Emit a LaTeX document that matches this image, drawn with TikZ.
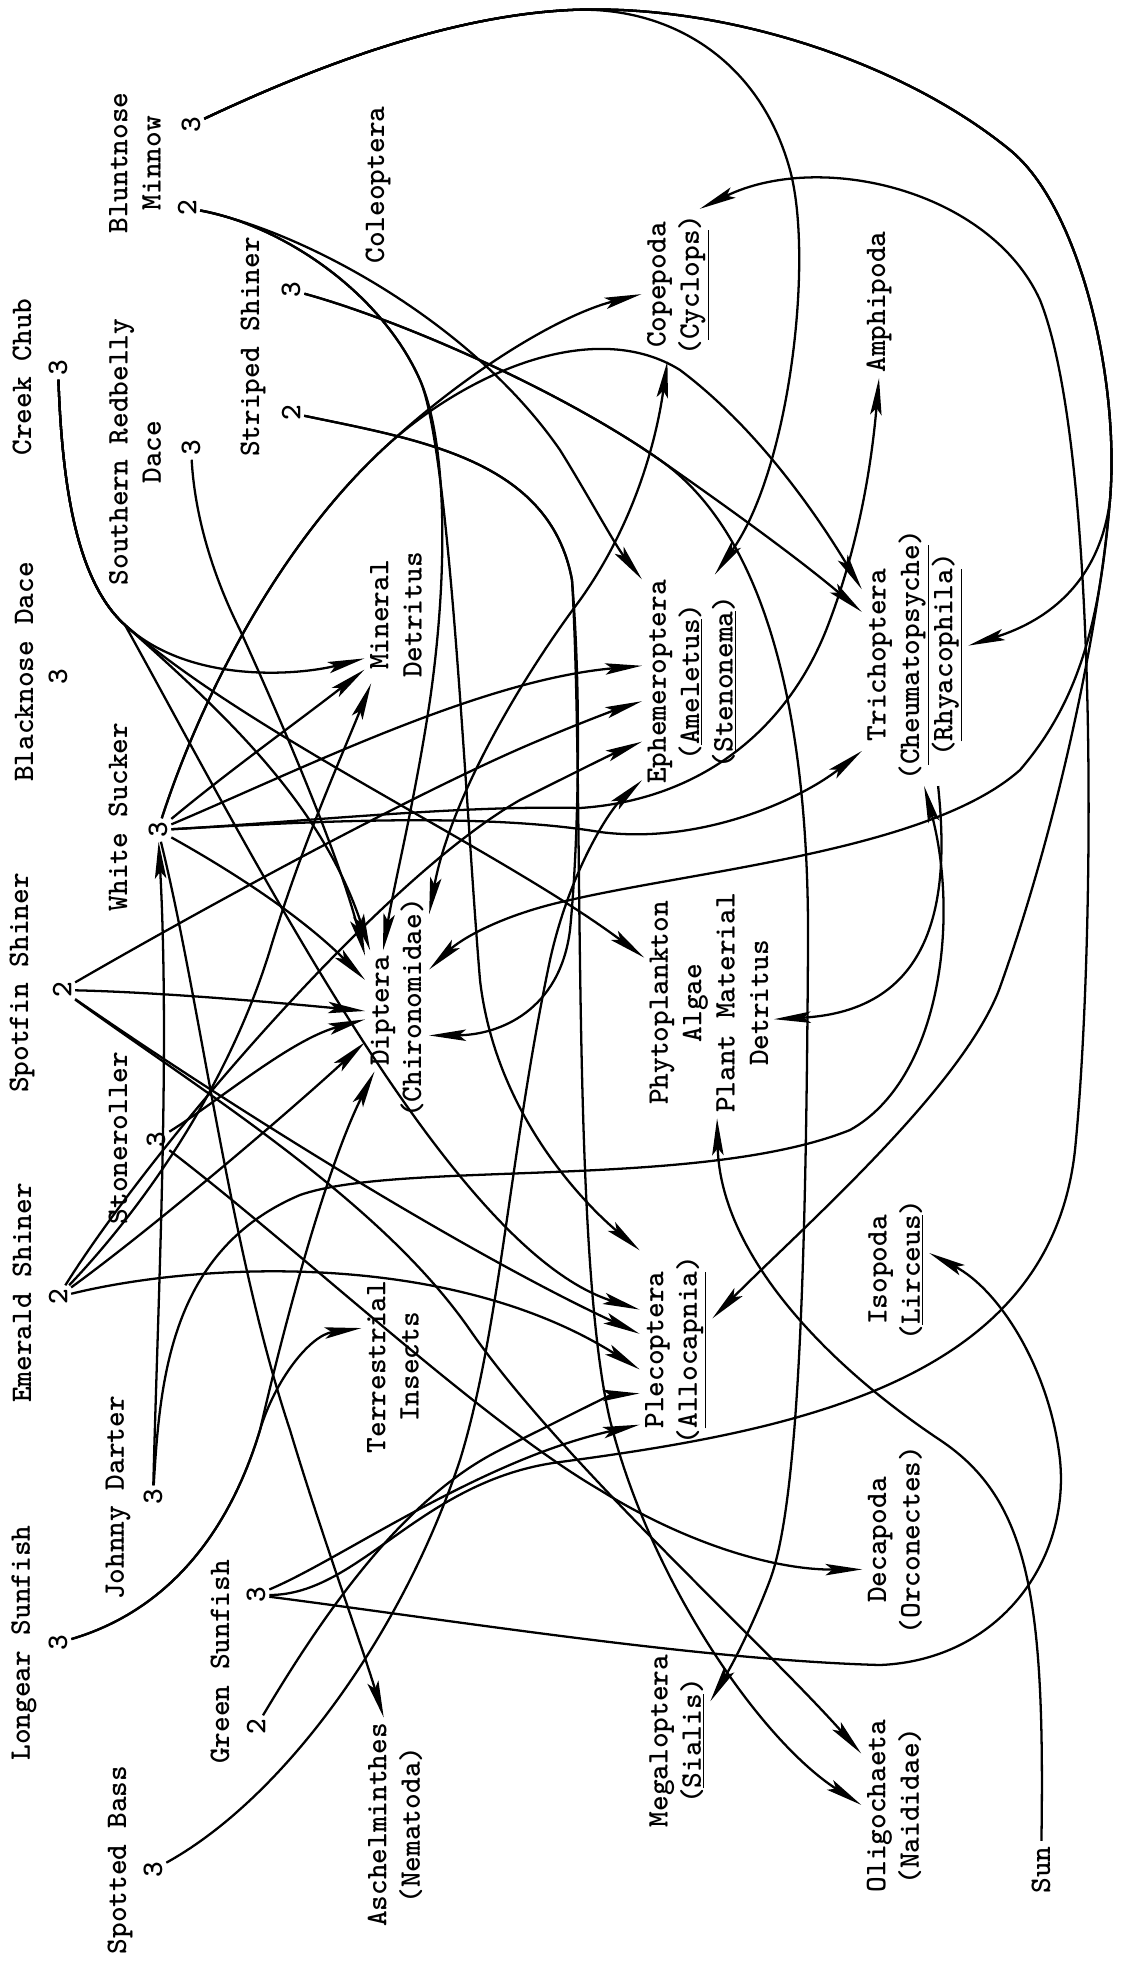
\documentclass[tikz,border=0pt]{standalone}
\usetikzlibrary{arrows.meta}
\newcommand{\lbl}{\fontsize{17}{19}\selectfont\ttfamily\bfseries}
\tikzset{
    taxon/.style={
           rotate=90,
           align=center,
           font=\lbl,
           inner sep=3pt,
           },
}
\tikzset{
    lvl/.style={
           rotate=90,
           font=\lbl,
           inner sep=2pt,
           },
}
\tikzset{
    feeds/.style={
           ->,
           line width=1.3pt,
           },
}
\begin{document}
\begin{tikzpicture}[x=0.02cm,y=-0.02cm,>={Stealth[length=21pt,width=6.5pt,inset=4pt]}]
\useasboundingbox (0,0) rectangle (1139,1965);
\node[taxon](bm) at (135,163){Bluntnose\\Minnow};
\node[taxon](cc) at (22,377){Creek Chub};
\node[taxon](srd) at (135,452){Southern Redbelly\\Dace};
\node[taxon](ss) at (253,347){Striped Shiner};
\node[taxon](bd) at (24,672){Blacknose Dace};
\node[taxon](ws) at (118,817){White Sucker};
\node[taxon](spot) at (22,983){Spotfin Shiner};
\node[taxon](stone) at (118,1138){Stoneroller};
\node[taxon](es) at (22,1293){Emerald Shiner};
\node[taxon](jd) at (118,1498){Johnny Darter};
\node[taxon](ls) at (24,1643){Longear Sunfish};
\node[taxon](gs) at (220,1662){Green Sunfish};
\node[taxon](sb) at (120,1860){Spotted Bass};
\node[lvl](bm3) at (191,125){3};
\node[lvl](bm2) at (187,208){2};
\node[lvl](cc3) at (58,368){3};
\node[lvl](srd3) at (191,448){3};
\node[lvl](ss3) at (291,290){3};
\node[lvl](ss2) at (291,413){2};
\node[lvl](bd3) at (58,677){3};
\node[lvl](ws3) at (158,830){3};
\node[lvl](sp2) at (62,990){2};
\node[lvl](st3) at (156,1140){3};
\node[lvl](es2) at (58,1297){2};
\node[lvl](jd3) at (153,1497){3};
\node[lvl](ls3) at (58,1643){3};
\node[lvl](gs3) at (256,1595){3};
\node[lvl](gs2) at (256,1727){2};
\node[lvl](sb3) at (153,1870){3};
\node[taxon](cole) at (378,185){Coleoptera};
\node[taxon](cop) at (678,285){Copepoda\\(\underline{Cyclops})};
\node[taxon](amph) at (879,302){Amphipoda};
\node[taxon](md) at (396,615){Mineral\\Detritus};
\node[taxon](eph) at (692,682){Ephemeroptera\\(\underline{Ameletus})\\(\underline{Stenonema})};
\node[taxon](tri) at (915,655){Trichoptera\\(\underline{Cheumatopsyche})\\(\underline{Rhyacophila})};
\node[taxon](dip) at (383,1011){Diptera};
\node[taxon](chir) at (412,1008){(Chironomidae)};
\node[taxon](phy) at (709,1003){Phytoplankton\\Algae\\Plant Material\\Detritus};
\node[taxon](ti) at (393,1367){Terrestrial\\Insects};
\node[taxon](ple) at (676,1350){Plecoptera\\(\underline{Allocapnia})};
\node[taxon](iso) at (896,1270){Isopoda\\(\underline{Lirceus})};
\node[taxon](dec) at (895,1540){Decapoda\\(Orconectes)};
\node[taxon](asc) at (395,1825){Aschelminthes\\(Nematoda)};
\node[taxon](meg) at (677,1741){Megaloptera\\(\underline{Sialis})};
\node[taxon](oli) at (894,1806){Oligochaeta\\(Naididae)};
\node[taxon](sun) at (1041,1870){Sun};
\draw[feeds] (bm3) .. controls (350,50) and (470,15) .. (570,10) .. controls (670,5) and (760,60) .. (790,170) .. controls (814,258) and (790,470) .. (eph.-12);
\draw[feeds] (bm3) .. controls (350,50) and (470,15) .. (570,10) .. controls (720,3) and (900,60) .. (1010,150) .. controls (1080,207) and (1120,380) .. (1110,500) .. controls (1100,580) and (1050,620) .. (tri.-80);
\draw[feeds] (bm3) .. controls (350,50) and (470,15) .. (570,10) .. controls (720,3) and (900,60) .. (1010,150) .. controls (1080,207) and (1120,380) .. (1110,500) .. controls (1100,620) and (1060,820) .. (999,990) .. controls (960,1090) and (800,1230) .. (ple.-49);
\draw[feeds] (bm3) .. controls (350,50) and (470,15) .. (570,10) .. controls (720,3) and (900,60) .. (1010,150) .. controls (1080,207) and (1120,380) .. (1110,500) .. controls (1100,620) and (1080,700) .. (1020,770) .. controls (930,850) and (700,870) .. (570,900) .. controls (500,915) and (460,940) .. (chir.-24);
\draw[feeds] (bm2) .. controls (280,225) and (380,290) .. (420,380) .. controls (445,436) and (450,560) .. (430,700) .. controls (415,800) and (395,880) .. (dip.east);
\draw[feeds] (bm2) .. controls (280,225) and (380,290) .. (420,380) .. controls (450,450) and (465,800) .. (480,980) .. controls (495,1110) and (580,1200) .. (ple.20);
\draw[feeds] (bm2) .. controls (300,230) and (470,320) .. (560,450) .. controls (585,490) and (615,545) .. (eph.26);
\draw[feeds] (ss3) .. controls (400,320) and (560,390) .. (660,460) .. controls (740,516) and (800,560) .. (tri.51);
\draw[feeds] (ss3) .. controls (400,320) and (560,390) .. (660,460) .. controls (760,530) and (810,700) .. (808,950) .. controls (806,1250) and (800,1500) .. (770,1580) .. controls (755,1620) and (735,1660) .. (meg.-40);
\draw[feeds] (ss2) .. controls (420,440) and (550,460) .. (572,580) .. controls (582,700) and (578,850) .. (570,930) .. controls (560,1010) and (500,1035) .. (chir.-148);
\draw[feeds] (ss2) .. controls (420,440) and (550,460) .. (572,580) .. controls (585,800) and (570,1250) .. (610,1420) .. controls (650,1580) and (760,1740) .. (oli.88);
\draw[feeds] (cc3) .. controls (62,480) and (75,580) .. (125,625) .. controls (190,685) and (300,675) .. (md.144);
\draw[feeds] (cc3) .. controls (62,480) and (75,580) .. (125,625) .. controls (250,735) and (500,850) .. (phy.55);
\draw[feeds] (cc3) .. controls (62,480) and (75,580) .. (125,625) .. controls (250,850) and (450,1250) .. (ple.42);
\draw[feeds] (cc3) .. controls (62,480) and (75,580) .. (125,625) .. controls (220,710) and (320,800) .. (dip.12);
\draw[feeds] (srd3) .. controls (195,520) and (215,580) .. (240,630) .. controls (290,740) and (340,860) .. (dip.18);
\draw[feeds] (ws3) .. controls (200,700) and (280,540) .. (393,440) .. controls (470,370) and (560,315) .. (cop.104);
\draw[feeds] (ws3) .. controls (200,700) and (280,540) .. (393,440) .. controls (480,365) and (600,320) .. (680,370) .. controls (760,430) and (820,520) .. (tri.39);
\draw[feeds] (ws3) .. controls (230,770) and (300,720) .. (md.150);
\draw[feeds] (ws3) .. controls (300,770) and (480,680) .. (eph.72);
\draw[feeds] (ws3) .. controls (300,822) and (480,812) .. (600,832) .. controls (700,845) and (800,800) .. (tri.151);
\draw[feeds] (ws3) .. controls (300,822) and (460,805) .. (580,808) .. controls (700,800) and (790,730) .. (830,620) .. controls (860,540) and (872,460) .. (amph.west);
\draw[feeds] (ws3) .. controls (230,870) and (300,915) .. (dip.30);
\draw[feeds] (ws3) .. controls (200,1000) and (230,1250) .. (290,1430) .. controls (320,1530) and (360,1640) .. (asc.6);
\draw[feeds] (jd3) .. controls (158,1300) and (170,1050) .. (ws3);
\draw[feeds] (sp2) .. controls (150,992) and (250,1000) .. (dip.90);
\draw[feeds] (sp2) .. controls (200,910) and (420,790) .. (540,740) .. controls (580,723) and (615,710) .. (eph.111);
\draw[feeds] (sp2) .. controls (200,1090) and (380,1200) .. (470,1330) .. controls (560,1460) and (760,1640) .. (oli.32);
\draw[feeds] (sp2) .. controls (250,1120) and (480,1260) .. (ple.66);
\draw[feeds] (es2) .. controls (150,1230) and (280,1120) .. (dip.150);
\draw[feeds] (es2) .. controls (200,1262) and (450,1250) .. (ple.118);
\draw[feeds] (es2) .. controls (150,1150) and (380,880) .. (520,800) .. controls (570,775) and (610,755) .. (eph.140);
\draw[feeds] (es2) .. controls (150,1200) and (230,1080) .. (270,950) .. controls (300,850) and (340,760) .. (md.160);
\draw[feeds] (st3) .. controls (220,1100) and (290,1040) .. (dip.115);
\draw[feeds] (st3) .. controls (300,1250) and (480,1420) .. (600,1490) .. controls (680,1540) and (770,1570) .. (dec.132);
\draw[feeds,<->] (chir) .. controls (450,800) and (520,680) .. (580,600) .. controls (630,530) and (655,450) .. (cop);
\draw[feeds] (gs3) .. controls (360,1595) and (420,1480) .. (560,1462) .. controls (800,1430) and (1050,1380) .. (1075,1150) .. controls (1095,950) and (1100,450) .. (1040,300) .. controls (990,190) and (820,150) .. (cop.-16);
\draw[feeds] (gs3) .. controls (340,1560) and (480,1460) .. (ple.154);
\draw[feeds] (gs3) .. controls (450,1620) and (700,1660) .. (880,1665) .. controls (1000,1660) and (1070,1560) .. (1060,1460) .. controls (1050,1370) and (1000,1290) .. (iso.-63);
\draw[feeds] (gs2) .. controls (320,1620) and (400,1500) .. (500,1450) .. controls (560,1420) and (610,1395) .. (ple.140);
\draw[feeds] (sb3) .. controls (280,1800) and (400,1640) .. (460,1460) .. controls (500,1330) and (510,1150) .. (550,960) .. controls (570,870) and (610,810) .. (eph.153);
\draw[feeds] (ls3) .. controls (170,1610) and (230,1530) .. (260,1430) .. controls (275,1380) and (310,1335) .. (ti.39);
\draw[feeds] (ls3) .. controls (170,1610) and (230,1530) .. (260,1430) .. controls (290,1300) and (330,1160) .. (dip.172);
\draw[feeds] (jd3) .. controls (160,1380) and (170,1250) .. (300,1195) .. controls (400,1160) and (700,1190) .. (850,1130) .. controls (940,1080) and (960,920) .. (tri.-176);
\draw[feeds] (tri.-170) .. controls (948,880) and (945,1010) .. (phy.-104);
\draw[feeds] (sun) .. controls (1045,1600) and (1030,1500) .. (940,1440) .. controls (820,1360) and (720,1250) .. (phy.-176);
\end{tikzpicture}
\end{document}
